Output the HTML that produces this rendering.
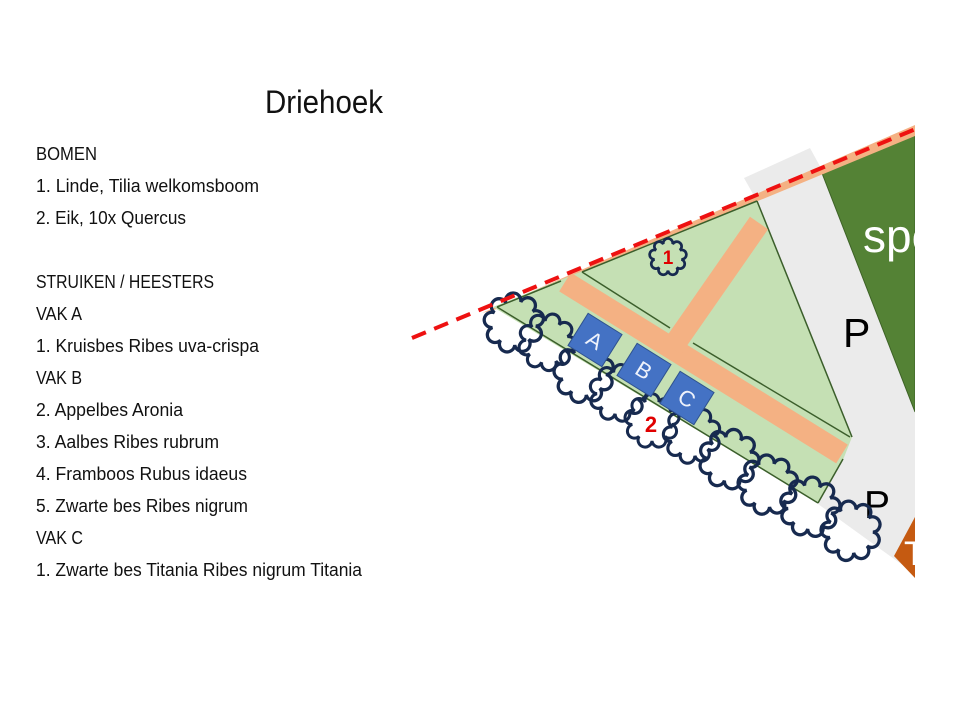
<!DOCTYPE html>
<html>
<head>
<meta charset="utf-8">
<style>
html,body{margin:0;padding:0;background:#fff;}
svg{display:block;}
</style>
</head>
<body>
<svg width="960" height="720" viewBox="0 0 960 720" xmlns="http://www.w3.org/2000/svg">
<defs>
<clipPath id="cp"><rect x="0" y="0" width="915" height="720"/></clipPath>
<path id="cloud" d="M20,0 A7,7 0 1 1 15.32,12.86 A7,7 0 1 1 3.47,19.70 A7,7 0 1 1 -10,17.32 A7,7 0 1 1 -18.79,6.84 A7,7 0 1 1 -18.79,-6.84 A7,7 0 1 1 -10,-17.32 A7,7 0 1 1 3.47,-19.70 A7,7 0 1 1 15.32,-12.86 A7,7 0 1 1 20,0 Z"/>
</defs>

<!-- Text -->
<g font-family="'Liberation Sans', sans-serif" fill="#111">
<text x="265" y="113" font-size="32" textLength="118" lengthAdjust="spacingAndGlyphs">Driehoek</text>
<g font-size="18.5">
<text x="36" y="160" textLength="61" lengthAdjust="spacingAndGlyphs">BOMEN</text>
<text x="36" y="192" textLength="223" lengthAdjust="spacingAndGlyphs">1. Linde, Tilia welkomsboom</text>
<text x="36" y="224" textLength="150" lengthAdjust="spacingAndGlyphs">2. Eik, 10x Quercus</text>
<text x="36" y="288" textLength="178" lengthAdjust="spacingAndGlyphs">STRUIKEN / HEESTERS</text>
<text x="36" y="320" textLength="46" lengthAdjust="spacingAndGlyphs">VAK A</text>
<text x="36" y="352" textLength="223" lengthAdjust="spacingAndGlyphs">1. Kruisbes Ribes uva-crispa</text>
<text x="36" y="384" textLength="46" lengthAdjust="spacingAndGlyphs">VAK B</text>
<text x="36" y="416" textLength="147" lengthAdjust="spacingAndGlyphs">2. Appelbes Aronia</text>
<text x="36" y="448" textLength="183" lengthAdjust="spacingAndGlyphs">3. Aalbes Ribes rubrum</text>
<text x="36" y="480" textLength="211" lengthAdjust="spacingAndGlyphs">4. Framboos Rubus idaeus</text>
<text x="36" y="512" textLength="212" lengthAdjust="spacingAndGlyphs">5. Zwarte bes Ribes nigrum</text>
<text x="36" y="544" textLength="47" lengthAdjust="spacingAndGlyphs">VAK C</text>
<text x="36" y="576" textLength="326" lengthAdjust="spacingAndGlyphs">1. Zwarte bes Titania Ribes nigrum Titania</text>
</g>
</g>

<!-- Diagram -->
<g clip-path="url(#cp)">
  <!-- gray road -->
  <polygon points="744,178 810,148 822,170 915,410 915,574 818,504 757,201" fill="#ebebeb"/>
  <!-- dark green field -->
  <polygon points="820,168 915,130 915,412" fill="#548235" stroke="#3d6226" stroke-width="1"/>
  <text x="863" y="252" font-family="'Liberation Sans', sans-serif" font-size="46" fill="#fff">spe</text>
  <!-- orange band along top -->
  <polygon points="482,313 915,125 915,136 497,309" fill="#f4b183"/>
  <!-- light green area -->
  <polygon points="493,307 757,201 852,437 843,460 818,503" fill="#c5e0b4"/>
  <!-- outlines -->
  <g stroke="#3b5e2b" stroke-width="1.5" fill="none">
    <line x1="497" y1="307" x2="561" y2="281"/>
    <line x1="582" y1="272" x2="757" y2="201"/>
    <line x1="757" y1="201" x2="852" y2="437"/>
    <line x1="843" y1="459" x2="818" y2="503"/>
    <line x1="818" y1="503" x2="497" y2="307"/>
    <line x1="582" y1="272" x2="670" y2="328"/>
    <line x1="693" y1="343" x2="850" y2="437"/>
  </g>
  <!-- orange paths -->
  <line x1="565" y1="282" x2="842" y2="454" stroke="#f4b183" stroke-width="22"/>
  <line x1="672" y1="348" x2="759" y2="223" stroke="#f4b183" stroke-width="22"/>

  <!-- orange marker bottom right -->
  <polygon points="894,556 915,517 915,578" fill="#c55a11"/>
  <text x="904" y="565" font-family="'Liberation Sans', sans-serif" font-size="34" fill="#fff">T</text>

  <!-- P labels -->
  <text x="843" y="347" font-family="'Liberation Sans', sans-serif" font-size="41" fill="#000">P</text>
  <text x="864" y="518" font-family="'Liberation Sans', sans-serif" font-size="39" fill="#000">P</text>

  <!-- clouds (hedge) -->
  <g fill="none" stroke="#172a4f" stroke-width="3">
    <use href="#cloud" transform="translate(514,323) rotate(8) scale(1.1)"/>
    <use href="#cloud" transform="translate(547,342) rotate(25) scale(1.05)"/>
    <use href="#cloud" transform="translate(584,373) rotate(4) scale(1.1)"/>
    <use href="#cloud" transform="translate(618,393) rotate(18) scale(1.05)"/>
    <use href="#cloud" transform="translate(652,421) rotate(10) scale(1.0)"/>
    <use href="#cloud" transform="translate(692,435) rotate(2) scale(1.05)"/>
    <use href="#cloud" transform="translate(729,459) rotate(22) scale(1.1)"/>
    <use href="#cloud" transform="translate(768,485) rotate(6) scale(1.1)"/>
    <use href="#cloud" transform="translate(810,507) rotate(16) scale(1.1)"/>
    <use href="#cloud" transform="translate(851,531) rotate(3) scale(1.1)"/>
    <use href="#cloud" transform="translate(668,257) rotate(10) scale(0.68)" stroke-width="4"/>
  </g>

  <!-- blue squares -->
  <g font-family="'Liberation Sans', sans-serif" font-size="22" fill="#eef2fb" text-anchor="middle">
    <g transform="translate(595,340) rotate(32)">
      <rect x="-20" y="-19" width="40" height="38" fill="#4472c4" stroke="#2f528f" stroke-width="1"/>
      <text x="0" y="8" fill="#eef2fb">A</text>
    </g>
    <g transform="translate(644,370) rotate(32)">
      <rect x="-20" y="-19" width="40" height="38" fill="#4472c4" stroke="#2f528f" stroke-width="1"/>
      <text x="0" y="8" fill="#eef2fb">B</text>
    </g>
    <g transform="translate(687,398) rotate(32)">
      <rect x="-20" y="-19" width="40" height="38" fill="#4472c4" stroke="#2f528f" stroke-width="1"/>
      <text x="0" y="8" fill="#eef2fb">C</text>
    </g>
  </g>

  <!-- red numbers -->
  <g font-family="'Liberation Sans', sans-serif" font-weight="bold" fill="#e00000" text-anchor="middle">
    <text x="668" y="264" font-size="19">1</text>
    <text x="651" y="432" font-size="22">2</text>
  </g>

  <!-- red dashed boundary -->
  <line x1="412" y1="338" x2="930" y2="123" stroke="#ee1111" stroke-width="4" stroke-dasharray="15 9"/>
</g>
</svg>
</body>
</html>
